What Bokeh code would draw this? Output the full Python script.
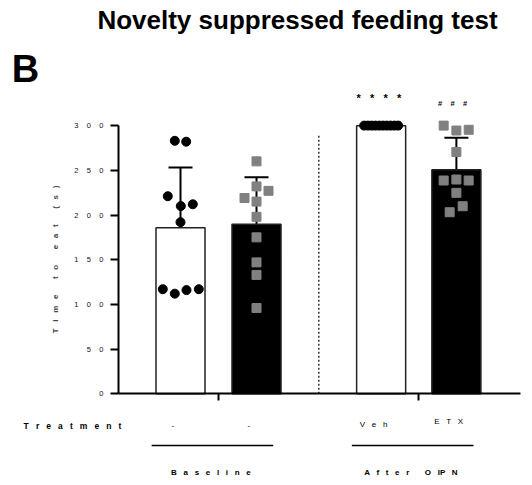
from bokeh.plotting import figure
from bokeh.models import Range1d, Whisker, TeeHead, ColumnDataSource, FixedTicker
from bokeh.core.properties import value
from bokeh.embed import file_html
from bokeh.resources import INLINE

NB = "\u00a0"

def spaced(tokens, n=3):
    """Letter-spaced text as in the reference (gap of n space widths)."""
    gap = " " + NB * (n - 1)
    return gap.join(NB if t == " " else t for t in tokens)

# ---- data ----
groups = ["Baseline", "Baseline", "After OIPN", "After OIPN"]
treatments = ["-", "-", "Veh", "ETX"]
group_names = ["Baseline", ["A", "f", "t", "e", "r", " ", "O", "IP", "N"]]
means = [185.7, 189.7, 299.8, 250.5]
sds = [67.5, 52.5, 0.0, 36.0]
vals_base_veh = [283, 282, 221, 210, 212, 192, 117, 112, 116, 117]
vals_base_etx = [260, 232, 227, 219, 215, 198, 175, 147, 133, 96]
vals_oipn_veh = [300, 300, 300, 300, 300, 300, 300, 300, 300, 300]
vals_oipn_etx = [300, 294.5, 295.3, 270.5, 238.6, 239.7, 238.6, 224.8, 209.8, 203.1]
y_ticks = [0, 50, 100, 150, 200, 250, 300]
y_label = "Time to eat (s)"
x_row_label = "Treatment"
stars = "****"
hashes = "###"
title = "Novelty suppressed feeding test"
panel = "B"

# ---- layout constants (positions / styles) ----
xpos = [1.0, 2.0, 3.64, 4.63]
bar_w = 0.645
jit_base_veh = [-5.7, 5.7, -12.7, 0.3, 12.3, 0, -17.7, -5.7, 6, 18.3]
jit_base_etx = [0, 0, 12, -12, 0, 0, 0, 0, 0, 0]
jit_oipn_veh = [-17, -13.2, -9.4, -5.7, -1.9, 1.9, 5.7, 9.4, 13.2, 17]
jit_oipn_etx = [-12.7, 0, 12.3, 0, -12.7, 0, 12.3, 0, 6.3, -6.7]
PX = 76.0  # px per x unit

W, H = 528, 480
Y0PX = 393.3  # canvas row of y = 0
x0 = 1 - 180 / PX
x1 = x0 + W / PX
ypx = 0.894
y1 = Y0PX / ypx
y0 = -(H - Y0PX) / ypx

def sx(px):
    return x0 + px / PX

def sy(py):
    return (Y0PX - py) / ypx

FONT = "Liberation Sans"

p = figure(width=W, height=H, output_backend="svg", toolbar_location=None,
           x_range=Range1d(x0, x1), y_range=Range1d(y0, y1),
           min_border_left=0, min_border_right=0, min_border_top=0, min_border_bottom=0)
p.grid.visible = False
p.outline_line_color = None
p.background_fill_color = "white"

axis_x = sx(118)
axis_right = sx(520)

# axes
yax = p.yaxis[0]
yax.fixed_location = axis_x
yax.bounds = (0, 300)
yax.ticker = FixedTicker(ticks=y_ticks)
yax.major_label_overrides = {t: spaced(str(t), 4) for t in y_ticks}
yax.minor_tick_line_color = None
yax.major_tick_in = 0
yax.major_tick_out = 8
yax.axis_line_width = 2
yax.major_tick_line_width = 2
yax.major_label_text_font = FONT
yax.major_label_text_font_size = "7.5px"
yax.major_label_text_color = "#111111"
yax.major_label_standoff = 7
yax.axis_label = spaced(y_label, 3)
yax.axis_label_text_font = FONT
yax.axis_label_text_font_style = "bold"
yax.axis_label_text_font_size = "8px"
yax.axis_label_standoff = 11

xax = p.xaxis[0]
xax.fixed_location = 0
xax.bounds = (axis_x, axis_right)
group_centers = [(xpos[0] + xpos[1]) / 2, (xpos[2] + xpos[3]) / 2]
xax.ticker = FixedTicker(ticks=group_centers)
xax.major_label_overrides = {c: "" for c in group_centers}
xax.minor_tick_line_color = None
xax.major_tick_in = 0
xax.major_tick_out = 7
xax.axis_line_width = 2
xax.major_tick_line_width = 2

# bars
fills = ["white", "black", "white", "black"]
p.vbar(x=xpos, top=means, bottom=0, width=bar_w, fill_color=fills,
       line_color="#222222", line_width=1.5)

# error bars (upward only)
eb = ColumnDataSource(dict(x=[xpos[i] for i in (0, 1, 3)],
                           lo=[means[i] for i in (0, 1, 3)],
                           hi=[means[i] + sds[i] for i in (0, 1, 3)]))
p.add_layout(Whisker(source=eb, base="x", lower="lo", upper="hi",
                     line_width=2, line_color="black",
                     upper_head=TeeHead(size=24, line_width=2, line_color="black"),
                     lower_head=None))

# separator
sep_x = (xpos[1] + xpos[2]) / 2
p.segment(x0=[sep_x], y0=[0], x1=[sep_x], y1=[291], line_color="black",
          line_width=1.2, line_dash="2 2")

# points
def pts(xc, vals, jit):
    return [xc + j / PX for j in jit], vals

xs, ys = pts(xpos[0], vals_base_veh, jit_base_veh)
p.scatter(xs, ys, marker="circle", size=9, fill_color="black", line_color="black")
xs, ys = pts(xpos[2], vals_oipn_veh, jit_oipn_veh)
p.scatter(xs, ys, marker="circle", size=9, fill_color="black", line_color="black")
xs, ys = pts(xpos[1], vals_base_etx, jit_base_etx)
p.scatter(xs, ys, marker="square", size=9, fill_color="#808080", line_color="#808080")
xs, ys = pts(xpos[3], vals_oipn_etx, jit_oipn_etx)
p.scatter(xs, ys, marker="square", size=9, fill_color="#808080", line_color="#808080")

# significance marks
p.text(x=[xpos[2] - 0.03], y=[sy(97)], text=[spaced(stars, 3)], text_align="center",
       text_baseline="middle", text_font=value(FONT), text_font_style="bold",
       text_font_size="11px")
p.text(x=[xpos[3] - 0.05], y=[sy(103)], text=[spaced(hashes, 4)], text_align="center",
       text_baseline="middle", text_font=value(FONT), text_font_style="bold",
       text_font_size="7.5px")

# title and panel letter
p.text(x=[sx(297)], y=[sy(19)], text=[title],
       text_align="center", text_baseline="middle",
       text_font=value(FONT), text_font_style="bold", text_font_size="26px")
p.text(x=[sx(25)], y=[sy(68)], text=[panel],
       text_align="center", text_baseline="middle",
       text_font=value(FONT), text_font_style="bold", text_font_size="38px")

# treatment row
p.text(x=[sx(72)], y=[sy(425)], text=[spaced(x_row_label, 3)], text_align="center",
       text_baseline="middle", text_font=value(FONT), text_font_style="bold",
       text_font_size="8.5px")
tl_y = [sy(425), sy(425), sy(424), sy(421)]
p.text(x=[x - 0.1 for x in xpos], y=tl_y, text=[spaced(t, 3) for t in treatments],
       text_align="center", text_baseline="middle", text_font=value(FONT),
       text_font_size="8px")

# group lines and labels
half = 0.8
lc = [c - 0.08 for c in group_centers]
ly = sy(445)
p.segment(x0=[c - half for c in lc], y0=[ly, ly], x1=[c + half for c in lc],
          y1=[ly, ly], line_color="black", line_width=1.3)
p.text(x=[c - 0.1 for c in group_centers], y=[sy(472), sy(472)],
       text=[spaced(g, 3) for g in group_names], text_align="center",
       text_baseline="middle", text_font=value(FONT), text_font_style="bold",
       text_font_size="8px")

open("out.html", "w").write(file_html(p, INLINE))
